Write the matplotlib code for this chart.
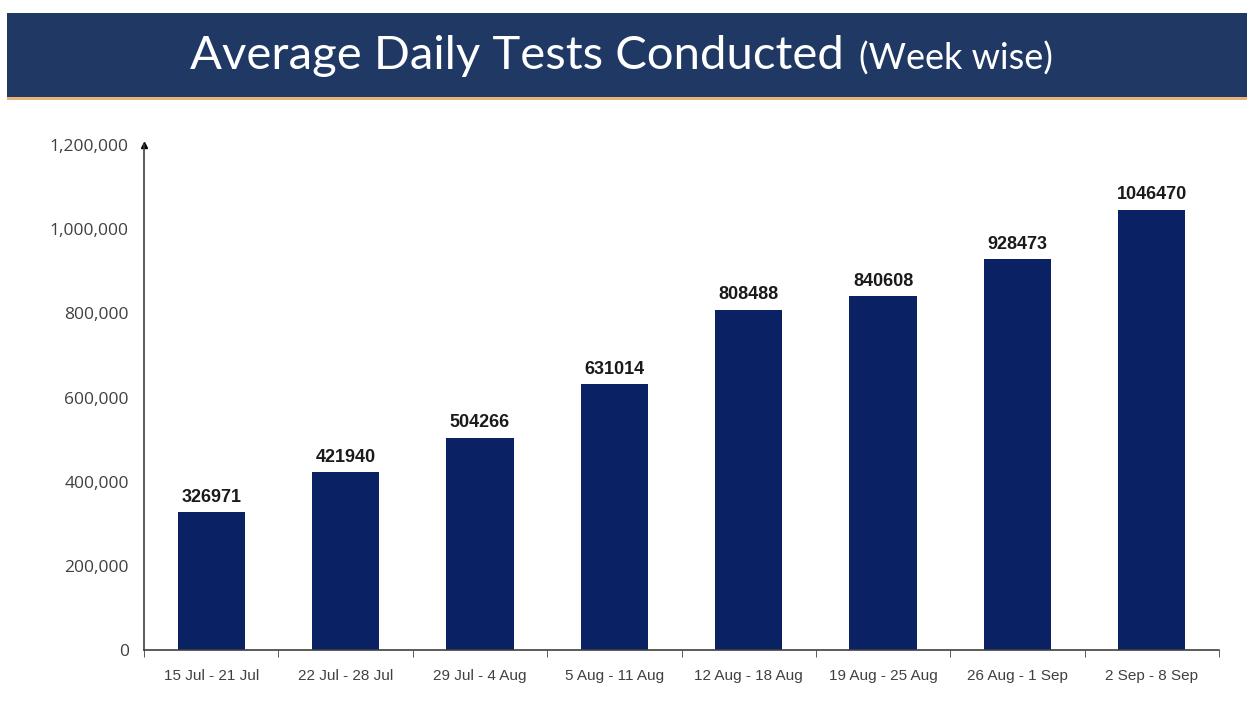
import matplotlib.pyplot as plt
import matplotlib.patches as patches
from matplotlib.ticker import FuncFormatter, FixedLocator

weeks = ['15 Jul - 21 Jul', '22 Jul - 28 Jul', '29 Jul - 4 Aug', '5 Aug - 11 Aug',
         '12 Aug - 18 Aug', '19 Aug - 25 Aug', '26 Aug - 1 Sep', '2 Sep - 8 Sep']
avg_tests = [326971, 421940, 504266, 631014, 808488, 840608, 928473, 1046470]
y_ticks = [0, 200000, 400000, 600000, 800000, 1000000, 1200000]

bar_color = '#0a2263'
banner_color = '#1f3864'
label_color = '#404040'

fig = plt.figure(figsize=(12.47, 7.09), dpi=100)
fig.patch.set_facecolor('white')

# title banner
banner = patches.Rectangle((7 / 1247, 1 - 97 / 709), 1 - 7 / 1247, 84 / 709,
                           transform=fig.transFigure, facecolor=banner_color,
                           edgecolor='none')
fig.add_artist(banner)
stripe = patches.Rectangle((7 / 1247, 1 - 100 / 709), 1 - 7 / 1247, 3 / 709,
                           transform=fig.transFigure, facecolor='#e8b27a',
                           edgecolor='none')
fig.add_artist(stripe)
t1 = fig.text(190 / 1247, 1 - 56 / 709, 'Average Daily Tests Conducted',
              color='white', fontsize=34, family='Lato', va='center', ha='left')
fig.canvas.draw()
bb = t1.get_window_extent()
fig.text(bb.x1 / 1247 + 0.012, 1 - 59 / 709, '(Week wise)', color='white',
         fontsize=26, family='Lato', va='center', ha='left')

ax = fig.add_axes([144 / 1247, 1 - 650 / 709, (1219 - 144) / 1247, (650 - 145) / 709])
x = list(range(len(weeks)))
ax.bar(x, avg_tests, width=0.5, color=bar_color)
for xi, v in zip(x, avg_tests):
    ax.text(xi, v + 15000, str(v), ha='center', va='bottom', fontsize=13,
            fontweight='bold', color='#1a1a1a', family='Liberation Sans')

ax.set_xlim(-0.5, len(weeks) - 0.5)
ax.set_ylim(0, 1200000)
ax.set_yticks(y_ticks)
ax.yaxis.set_major_formatter(FuncFormatter(lambda v, p: f'{int(v):,}'))
ax.set_xticks(x)
ax.set_xticklabels(weeks)
ax.xaxis.set_minor_locator(FixedLocator([i + 0.5 for i in range(-1, len(weeks))]))
ax.tick_params(axis='x', which='major', length=0, pad=14, labelsize=11,
               labelcolor=label_color)
ax.tick_params(axis='x', which='minor', length=5, color='#404040', direction='out')
ax.tick_params(axis='y', length=0, pad=11, labelsize=12.5, labelcolor=label_color)
for lab in ax.get_xticklabels():
    lab.set_family('Liberation Sans')
for lab in ax.get_yticklabels():
    lab.set_family('Open Sans')

for s in ['top', 'right']:
    ax.spines[s].set_visible(False)
ax.spines['left'].set_color('#404040')
ax.spines['bottom'].set_color('#404040')
ax.spines['left'].set_linewidth(1.2)
ax.spines['bottom'].set_linewidth(1.2)
ax.plot(0, 1, marker='^', markersize=5, color='black', transform=ax.transAxes,
        clip_on=False)

fig.savefig('out.png', dpi=100)
